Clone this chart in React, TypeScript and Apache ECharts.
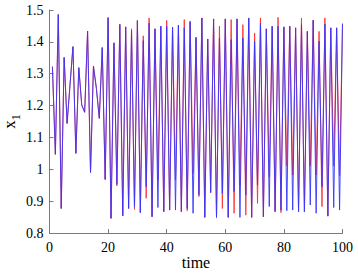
import React, { useEffect, useRef } from 'react';
import * as echarts from 'echarts';

// x1(t) sampled at t = 1..100
const blueValues = [
  1.322, 1.047, 1.486, 0.877, 1.351, 1.144, 1.265, 1.385, 1.050, 1.319,
  1.202, 1.179, 1.434, 0.990, 1.324, 1.254, 1.160, 1.382, 0.968, 1.476,
  0.846, 1.397, 0.953, 1.455, 0.854, 1.447, 0.877, 1.435, 0.883, 1.467,
  0.864, 1.404, 0.945, 1.459, 0.851, 1.441, 0.880, 1.449, 0.867, 1.449,
  0.872, 1.446, 0.872, 1.452, 0.867, 1.444, 0.877, 1.464, 0.862, 1.414,
  0.920, 1.475, 0.849, 1.409, 0.927, 1.472, 0.849, 1.412, 0.925, 1.472,
  0.849, 1.407, 0.930, 1.472, 0.849, 1.412, 0.919, 1.475, 0.849, 1.402,
  0.950, 1.459, 0.851, 1.441, 0.883, 1.449, 0.867, 1.449, 0.872, 1.447,
  0.870, 1.449, 0.872, 1.444, 0.867, 1.454, 0.867, 1.433, 0.888, 1.468,
  0.862, 1.402, 0.945, 1.456, 0.853, 1.444, 0.880, 1.444, 0.872, 1.457,
];

const redValues = [
  1.322, 1.047, 1.486, 0.877, 1.351, 1.144, 1.265, 1.385, 1.050, 1.319,
  1.202, 1.179, 1.434, 0.990, 1.324, 1.254, 1.160, 1.382, 0.968, 1.476,
  0.846, 1.397, 0.948, 1.455, 0.854, 1.447, 0.877, 1.441, 0.874, 1.467,
  0.864, 1.419, 0.909, 1.475, 0.851, 1.441, 0.966, 1.449, 0.867, 1.467,
  0.872, 1.446, 0.966, 1.452, 0.867, 1.470, 0.870, 1.464, 0.987, 1.414,
  0.914, 1.475, 0.849, 1.409, 0.927, 1.472, 0.849, 1.449, 0.877, 1.472,
  0.849, 1.470, 0.862, 1.472, 0.950, 1.454, 0.856, 1.475, 0.849, 1.428,
  0.893, 1.475, 0.851, 1.441, 0.977, 1.449, 0.867, 1.477, 0.864, 1.447,
  1.010, 1.449, 0.982, 1.444, 0.867, 1.475, 0.867, 1.433, 1.010, 1.468,
  0.982, 1.433, 0.883, 1.475, 0.853, 1.444, 1.010, 1.444, 0.980, 1.457,
];

const xTicks = { min: 0, max: 100, interval: 20 };
const yTicks = { min: 0.8, max: 1.5, interval: 0.1 };

const xName = 'time';
const yNameMain = 'x';
const yNameSub = '1';

const toPoints = (vals: number[]) => vals.map((v, i) => [i + 1, v]);

export default function App() {
  const ref = useRef<HTMLDivElement>(null);

  useEffect(() => {
    document.body.style.margin = '0';
    if (!ref.current) return;
    const chart = echarts.init(ref.current, undefined, { renderer: 'svg' });
    const serif = 'Liberation Serif';
    const axisColor = '#7a7a7a';
    chart.setOption({
      animation: false,
      backgroundColor: '#ffffff',
      textStyle: { fontFamily: serif },
      grid: {
        left: 49.5,
        right: 15.5,
        top: 10,
        bottom: 40,
        containLabel: false,
        outerBoundsMode: 'none',
      },
      xAxis: {
        type: 'value',
        min: xTicks.min,
        max: xTicks.max,
        interval: xTicks.interval,
        name: xName,
        nameLocation: 'middle',
        nameGap: 21,
        nameMoveOverlap: false,
        nameTextStyle: { fontFamily: serif, fontSize: 16, color: '#000', lineHeight: 16 },
        axisLine: { show: true, onZero: false, lineStyle: { color: axisColor, width: 1 } },
        axisTick: { show: true, inside: true, length: 4, lineStyle: { color: axisColor } },
        axisLabel: { margin: 7, fontFamily: serif, fontSize: 14, color: '#000' },
        splitLine: { show: false },
      },
      yAxis: {
        type: 'value',
        min: yTicks.min,
        max: yTicks.max,
        interval: yTicks.interval,
        name: `{a|${yNameMain}}{b|${yNameSub}}`,
        nameLocation: 'middle',
        nameRotate: 90,
        nameGap: 28,
        nameMoveOverlap: false,
        nameTextStyle: {
          fontFamily: serif,
          color: '#000',
          rich: {
            a: { fontFamily: serif, fontSize: 17, lineHeight: 20, verticalAlign: 'middle', color: '#000' },
            b: { fontFamily: serif, fontSize: 12, lineHeight: 24, verticalAlign: 'bottom', color: '#000' },
          },
        },
        axisLine: { show: true, onZero: false, lineStyle: { color: axisColor, width: 1 } },
        axisTick: { show: true, inside: true, length: 4, lineStyle: { color: axisColor } },
        axisLabel: { margin: 6, fontFamily: serif, fontSize: 14, color: '#000' },
        splitLine: { show: false },
      },
      series: [
        {
          type: 'line',
          data: toPoints(redValues),
          showSymbol: false,
          lineStyle: { color: '#ff3030', width: 0.9 },
          itemStyle: { color: '#ff3030' },
          z: 2,
        },
        {
          type: 'line',
          data: toPoints(blueValues),
          showSymbol: false,
          lineStyle: { color: '#3535ff', width: 0.9 },
          itemStyle: { color: '#3535ff' },
          z: 3,
        },
      ],
    });
    return () => chart.dispose();
  }, []);

  return <div ref={ref} style={{ width: 358, height: 273 }} />;
}
